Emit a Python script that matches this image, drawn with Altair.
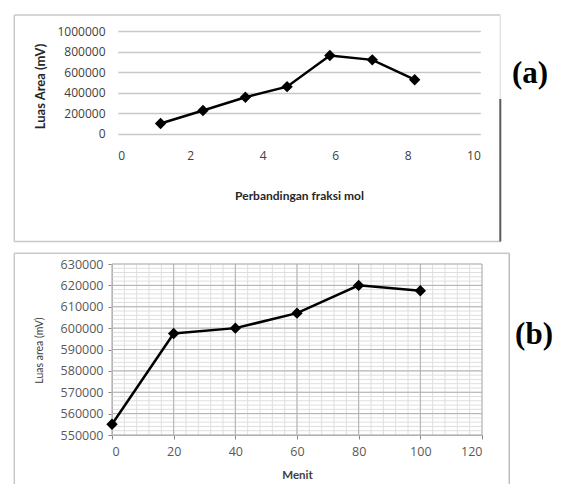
import altair as alt
import pandas as pd

# ---------------- data ----------------
# panel (a)
a_x = [1.18, 2.35, 3.52, 4.67, 5.85, 7.02, 8.19]
a_y = [100000, 226000, 355000, 458000, 761000, 719000, 526000]
a_xticks = [0, 2, 4, 6, 8, 10]
a_yticks = [0, 200000, 400000, 600000, 800000, 1000000]

# panel (b)
b_x = [0, 20, 40, 60, 80, 100]
b_y = [555000, 597500, 600000, 607000, 620000, 617500]
b_xticks = [0, 20, 40, 60, 80, 100, 120]
b_yticks = list(range(550000, 630001, 10000))
b_xminor = list(range(0, 121, 4))
b_yminor = list(range(550000, 630001, 2000))

one = pd.DataFrame({"k": [0]})

# ---------------- sizes ----------------
W_A, H_A = 368.3, 102.7
W_B, H_B = 370, 171
SANS = "Lato"
NUM = "Open Sans"


def edge(x=None, x2=None, y=None, y2=None, color="#c8c8c8", width=1.5):
    enc = {}
    if x is not None:
        enc["x"] = alt.value(x)
    if x2 is not None:
        enc["x2"] = alt.value(x2)
    if y is not None:
        enc["y"] = alt.value(y)
    if y2 is not None:
        enc["y2"] = alt.value(y2)
    return alt.Chart(one).mark_rule(color=color, strokeWidth=width).encode(**enc)


# ---------------- panel (a) ----------------
dfa = pd.DataFrame({"x": a_x, "y": a_y})
xa = alt.X(
    "x:Q",
    scale=alt.Scale(domain=[0, 10], range=[5.8, W_A], nice=False, zero=False),
    axis=alt.Axis(
        values=a_xticks, grid=False, domain=False, ticks=False, tickSize=0,
        labelPadding=17, labelFont=NUM, labelFontSize=12, labelColor="#404040",
        title="Perbandingan fraksi mol", titleFont=SANS, titleFontSize=12,
        titleFontWeight="bold", titleColor="#262626",
        titleX=187, titleY=62, titleAlign="center", titleBaseline="middle",
    ),
)
ya = alt.Y(
    "y:Q",
    scale=alt.Scale(domain=[0, 1000000], nice=False),
    axis=alt.Axis(
        values=a_yticks, grid=True, gridColor="#c8c8c8", gridWidth=1.5,
        domain=False, ticks=False, tickSize=0, format="d",
        labelPadding=7, labelFont=NUM, labelFontSize=12, labelColor="#404040",
        title="Luas Area (mV)", titleFont=SANS, titleFontSize=13,
        titleFontWeight="bold", titleColor="#262626",
        titleX=-71.7, titleY=55, titleAngle=270, titleAlign="center",
        titleBaseline="middle",
    ),
)
base_a = alt.Chart(dfa).encode(x=xa, y=ya)
line_a = base_a.mark_line(color="black", strokeWidth=2.5)
pts_a = base_a.mark_point(shape="diamond", filled=True, size=130, color="black", opacity=1)

label_a = alt.Chart(one).mark_text(
    text="(a)", font="Liberation Serif", fontWeight="bold", fontSize=31,
    align="center", baseline="middle", color="black",
).encode(x=alt.value(418), y=alt.value(43))

panel_a = alt.layer(
    edge(x=-97.7, x2=388.3, y=-16),
    edge(x=-97.7, y=-16, y2=210.5),
    edge(x=-97.7, x2=388.3, y=210.5),
    edge(x=388.3, y=-16, y2=68, color="#e2e2e2"),
    edge(x=388.3, y=68, y2=210.5, color="#5a5a5a", width=2),
    line_a, pts_a, label_a,
).properties(width=W_A, height=H_A)

# ---------------- panel (b) ----------------
dfb = pd.DataFrame({"x": b_x, "y": b_y})
sx_b = alt.Scale(domain=[0, 120], nice=False, zero=False)
sy_b = alt.Scale(domain=[550000, 630000], nice=False, zero=False)

ax_bx = alt.Axis(
    values=b_xticks, grid=False, domain=True, domainColor="#868686",
    ticks=True, tickColor="#868686", tickSize=4,
    labelPadding=6, labelFont=NUM, labelFontSize=12.5, labelColor="#595959",
    title="Menit", titleFont=SANS, titleFontSize=11.5, titleFontWeight="bold",
    titleColor="#404040", titleX=185, titleY=40, titleAlign="center",
    titleBaseline="middle",
)
ax_by = alt.Axis(
    values=b_yticks, grid=False, domain=True, domainColor="#868686",
    ticks=True, tickColor="#868686", tickSize=4, format="d",
    labelPadding=5, labelFont=NUM, labelFontSize=12.5, labelColor="#595959",
    title="Luas area (mV)", titleFont=SANS, titleFontSize=10.5,
    titleFontWeight="normal", titleColor="#404040",
    titleX=-73, titleY=86, titleAngle=270, titleAlign="center",
    titleBaseline="middle",
)

minor_x = alt.Chart(pd.DataFrame({"x": b_xminor})).mark_rule(color="#dedede", strokeWidth=1).encode(
    x=alt.X("x:Q", scale=sx_b, axis=ax_bx))
minor_y = alt.Chart(pd.DataFrame({"y": b_yminor})).mark_rule(color="#dedede", strokeWidth=1).encode(
    y=alt.Y("y:Q", scale=sy_b, axis=ax_by))
major_x = alt.Chart(pd.DataFrame({"x": b_xticks})).mark_rule(color="#b0b0b0", strokeWidth=1).encode(
    x=alt.X("x:Q", scale=sx_b, axis=ax_bx))
major_y = alt.Chart(pd.DataFrame({"y": b_yticks})).mark_rule(color="#b0b0b0", strokeWidth=1).encode(
    y=alt.Y("y:Q", scale=sy_b, axis=ax_by))

base_b = alt.Chart(dfb).encode(
    x=alt.X("x:Q", scale=sx_b, axis=ax_bx),
    y=alt.Y("y:Q", scale=sy_b, axis=ax_by),
)
line_b = base_b.mark_line(color="black", strokeWidth=2.5)
pts_b = base_b.mark_point(shape="diamond", filled=True, size=130, color="black", opacity=1)

label_b = alt.Chart(one).mark_text(
    text="(b)", font="Liberation Serif", fontWeight="bold", fontSize=31,
    align="center", baseline="middle", color="black",
).encode(x=alt.value(422), y=alt.value(71))

panel_b = alt.layer(
    minor_x, minor_y, major_x, major_y,
    edge(x=-97.7, x2=397.3, y=-10.7),
    edge(x=-97.7, y=-10.7, y2=220),
    edge(x=397.3, y=-10.7, y2=220, color="#bdbdbd"),
    line_b, pts_b, label_b,
).properties(width=W_B, height=H_B)

chart = alt.vconcat(panel_a, panel_b, spacing=9).properties(
    padding={"left": 5, "top": 6, "right": 0, "bottom": 0},
    background="white",
).configure_view(strokeWidth=0)

chart.save("out.html", embed_options={"renderer": "svg", "actions": False})
